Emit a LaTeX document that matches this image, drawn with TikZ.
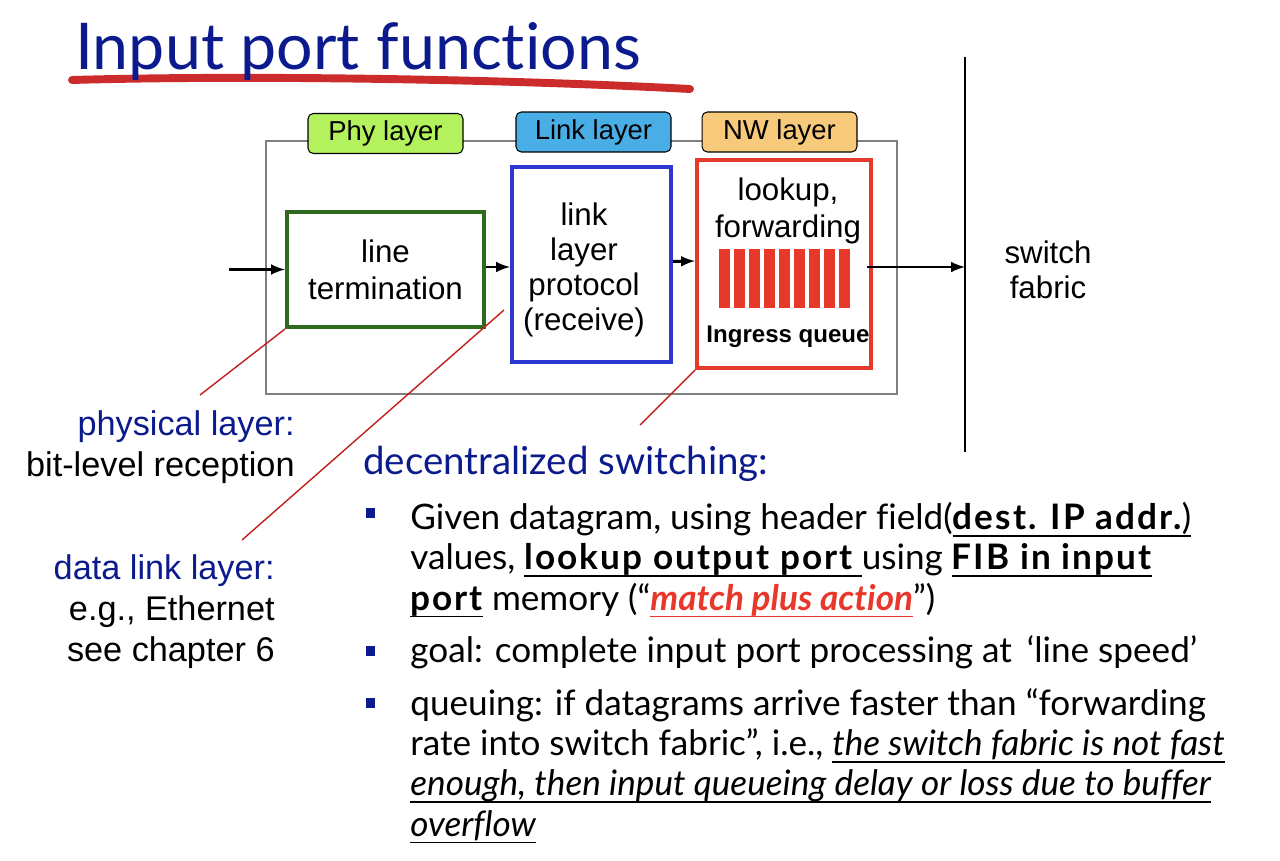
\documentclass[tikz,border=0pt]{standalone}
\usepackage{fontspec}
\setmainfont{Liberation Sans}
\newfontfamily\gill[Ligatures={NoCommon}]{Lato}
\usetikzlibrary{arrows, positioning}
\definecolor{titleblue}{HTML}{0B1A8C}
\definecolor{brushred}{HTML}{CC2B2B}
\definecolor{termgreen}{HTML}{2E6B1E}
\definecolor{protoblue}{HTML}{2C38CF}
\definecolor{queuered}{HTML}{E8382B}
\definecolor{leaderred}{HTML}{C0201B}
\definecolor{phyfill}{HTML}{B3F25C}
\definecolor{linkfill}{HTML}{4AAEE6}
\definecolor{nwfill}{HTML}{F7C97A}
\definecolor{portgray}{HTML}{7F7F7F}
\newcommand{\lineul}[1]{\mbox{\setbox0=\hbox{#1}\rlap{\rule[-4pt]{\wd0}{0.8pt}}\box0}}
\newcommand{\heavy}[1]{{\bfseries\addfontfeature{LetterSpace=6}#1}}

\tikzset{
  layertab/.style={draw=black, line width=0.6pt, rounded corners=3pt, minimum width=3.1cm, minimum height=0.8cm, inner sep=0pt, font=\fontsize{15.6}{18}\selectfont},
  funcbox/.style={line width=2.3pt, inner sep=0pt, align=center, font=\fontsize{17.8}{19.8}\selectfont},
  flow/.style={-latex, line width=1.7pt},
  leader/.style={leaderred, line width=0.8pt},
  sidelabel/.style={inner sep=0pt, align=right, font=\fontsize{19.5}{23.3}\selectfont},
  bodytext/.style={inner sep=0pt, align=left, font=\gill\fontsize{20}{22.9}\selectfont},
  bulletsq/.style={fill=titleblue, minimum width=0.18cm, minimum height=0.2cm, inner sep=0pt}
}

\begin{document}
\begin{tikzpicture}[x=0.02cm, y=-0.02cm]
\useasboundingbox (0,0) rectangle (1280,861);

% Title
\draw[brushred, line width=4.5pt, line cap=round] (72,80) .. controls (250,75) and (500,79) .. (690,89);
\node[anchor=base west, inner sep=0pt, text=titleblue, font=\gill\fontsize{36.7}{42}\selectfont] (title) at (75,70) {Input port functions};

% Input port
\draw[portgray, line width=1.2pt] (266,141) rectangle (897,394);
\node[layertab, fill=phyfill] (phytab) at (385.5,133.5) {Phy layer};
\node[layertab, fill=linkfill] (linktab) at (593.5,132) {Link layer};
\node[layertab, fill=nwfill] (nwtab) at (779.5,132) {NW layer};

\node[funcbox, draw=termgreen, minimum width=3.94cm, minimum height=2.3cm, font=\fontsize{17.8}{21}\selectfont] (term) at (385.5,269.5) {line\\termination};
\node[funcbox, draw=protoblue, minimum width=3.18cm, minimum height=3.9cm] (proto) at (591.5,264.5) {};
\node[funcbox] (prototext) at (584,270) {link\\layer\\protocol\\(receive)};
\node[funcbox, draw=queuered, minimum width=3.48cm, minimum height=4.16cm] (lookup) at (784,264) {};
\node[funcbox, anchor=north, font=\fontsize{17.8}{21}\selectfont] (lookuptext) at (788,176) {lookup,\\forwarding};
\foreach \i in {0,...,8}
  \fill[queuered] ({719+15*\i},249) rectangle ++(10.5,59);
\node[inner sep=0pt, font=\fontsize{13.7}{16}\selectfont\bfseries] (ingress) at (788,337) {Ingress queue};

% Switch fabric
\coordinate (fabtop) at (965,57);
\coordinate (fabbot) at (965,452);
\draw[line width=0.9pt] (fabtop) -- (fabbot);
\node[funcbox, align=center] (fabric) at (1048,270) {switch\\fabric};

% Arrows
\coordinate (inport) at (229,269.5);
\draw[flow] (inport) -- (term.west);
\draw[flow] ([yshift=0.05cm]term.east) -- ([yshift=0.05cm]term.east -| proto.west);
\draw[flow] ([yshift=0.06cm]proto.east) -- ([yshift=0.06cm]lookup.west);
\draw[flow] ([xshift=-0.12cm,yshift=-0.06cm]lookup.east) -- ([yshift=-0.06cm]lookup.east -| fabtop);

% Side labels
\node[sidelabel, anchor=base east] (phylabel) at (295,476) {\textcolor{titleblue}{physical layer:}\\bit-level reception};
\node[sidelabel, anchor=base east] (linklabel) at (275,661) {\textcolor{titleblue}{data link layer:}\\e.g., Ethernet\\see chapter 6};
\coordinate (phyend) at (200,395);
\coordinate (linkend) at (242,540);
\coordinate (nwend) at (640,425);
\draw[leader] (term.south west) -- (phyend);
\draw[leader] ([shift={(-6,45.5)}]proto.west) -- (linkend);
\draw[leader] (lookup.south west) -- (nwend);

% Decentralized switching
\node[anchor=base west, inner sep=0pt, text=titleblue, font=\gill\fontsize{21.9}{25}\selectfont] (heading) at (363,474) {decentralized switching:};
\node[bulletsq] (b1) at (370,513) {};
\node[bulletsq] (b2) at (370,651) {};
\node[bulletsq] (b3) at (370,703) {};
\node[bodytext, anchor=base west] (item1) at (410,610) {Given datagram, using header field(\lineul{\heavy{dest. IP addr.})}\\
values, \lineul{\heavy{lookup output port} }using \lineul{\heavy{FIB in input}}\\
\lineul{\heavy{port}} memory (“\textcolor{queuered}{\lineul{\textbf{\textit{match plus action}}}}”)};
\node[bodytext, anchor=base west] (item2) at (410,662) {goal: complete input port processing at \,‘line speed’};
\node[bodytext, anchor=base west] (item3) at (410,836) {queuing: if datagrams arrive faster than “forwarding\\
rate into switch fabric”, i.e., \lineul{\textit{the switch fabric is not fast}}\\
\lineul{\textit{enough, then input queueing delay or loss due to buffer}}\\
\lineul{\textit{overflow}}};
\end{tikzpicture}
\end{document}
